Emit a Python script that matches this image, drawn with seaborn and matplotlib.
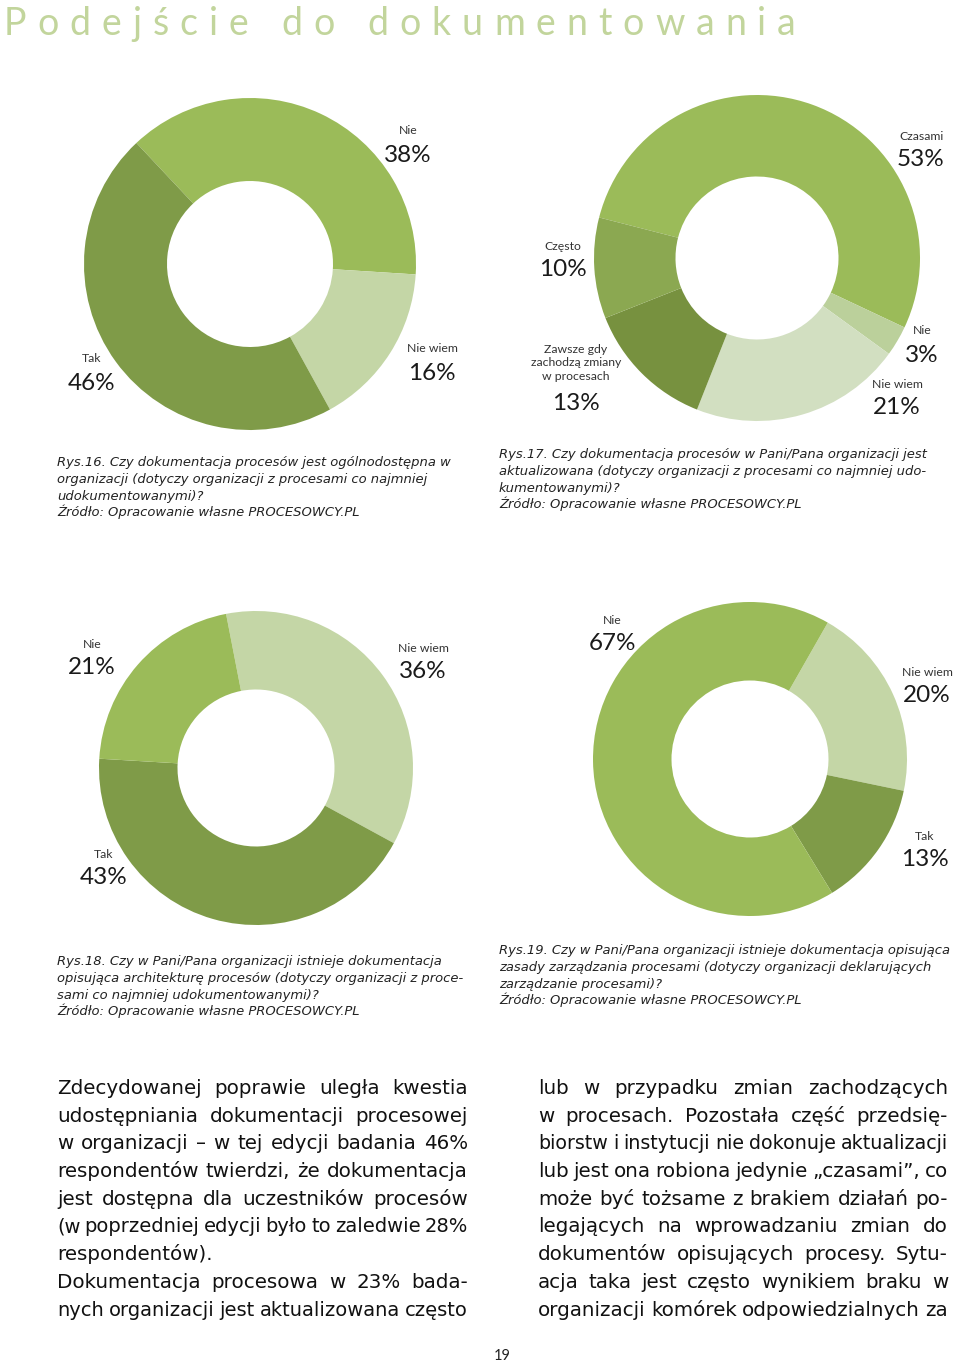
import matplotlib
matplotlib.use("Agg")
import matplotlib.pyplot as plt
import seaborn as sns

sns.set_theme(style="white")
plt.rcParams['font.family'] = ['Lato', 'DejaVu Sans']

W, H, DPI = 960, 1364, 100

# ==================== dane ====================
rys16_labels = ["Nie", "Nie wiem", "Tak"]
rys16_values = [38, 16, 46]

rys17_labels = ["Czasami", "Nie", "Nie wiem", "Zawsze gdy\nzachodzą zmiany\nw procesach", "Często"]
rys17_values = [53, 3, 21, 13, 10]

rys18_labels = ["Nie wiem", "Tak", "Nie"]
rys18_values = [36, 43, 21]

rys19_labels = ["Nie wiem", "Tak", "Nie"]
rys19_values = [20, 13, 67]

captions = {
    16: ["Rys.16. Czy dokumentacja procesów jest ogólnodostępna w",
         "organizacji (dotyczy organizacji z procesami co najmniej",
         "udokumentowanymi)?",
         "Źródło: Opracowanie własne PROCESOWCY.PL"],
    17: ["Rys.17. Czy dokumentacja procesów w Pani/Pana organizacji jest",
         "aktualizowana (dotyczy organizacji z procesami co najmniej udo-",
         "kumentowanymi)?",
         "Źródło: Opracowanie własne PROCESOWCY.PL"],
    18: ["Rys.18. Czy w Pani/Pana organizacji istnieje dokumentacja",
         "opisująca architekturę procesów (dotyczy organizacji z proce-",
         "sami co najmniej udokumentowanymi)?",
         "Źródło: Opracowanie własne PROCESOWCY.PL"],
    19: ["Rys.19. Czy w Pani/Pana organizacji istnieje dokumentacja opisująca",
         "zasady zarządzania procesami (dotyczy organizacji deklarujących",
         "zarządzanie procesami)?",
         "Źródło: Opracowanie własne PROCESOWCY.PL"],
}

left_col = ["Zdecydowanej poprawie uległa kwestia",
            "udostępniania dokumentacji procesowej",
            "w organizacji – w tej edycji badania 46%",
            "respondentów twierdzi, że dokumentacja",
            "jest dostępna dla uczestników procesów",
            "(w poprzedniej edycji było to zaledwie 28%",
            "respondentów).",
            "Dokumentacja procesowa w 23% bada-",
            "nych organizacji jest aktualizowana często"]
right_col = ["lub w przypadku zmian zachodzących",
             "w procesach. Pozostała część przedsię-",
             "biorstw i instytucji nie dokonuje aktualizacji",
             "lub jest ona robiona jedynie „czasami”, co",
             "może być tożsame z brakiem działań po-",
             "legających na wprowadzaniu zmian do",
             "dokumentów opisujących procesy. Sytu-",
             "acja taka jest często wynikiem braku w",
             "organizacji komórek odpowiedzialnych za"]

# ==================== kolory ====================
GREEN = "#9BBB59"
DARK = "#7F9B48"
LIGHT = "#C4D6A6"
colors16 = {"Nie": GREEN, "Nie wiem": LIGHT, "Tak": DARK}
colors17 = {"Czasami": GREEN, "Nie": "#BBD09B", "Nie wiem": "#D2DFC1",
            "Zawsze gdy\nzachodzą zmiany\nw procesach": "#77913F", "Często": "#8BA851"}

fig = plt.figure(figsize=(W / DPI, H / DPI), dpi=DPI)
fig.patch.set_facecolor("white")


def put(x, y, s, **kw):
    return fig.text(x / W, 1 - y / H, s, **kw)


def donut(cx, cy, r, labels, values, cmap, start, label_pos):
    ax = fig.add_axes([(cx - r) / W, 1 - (cy + r) / H, 2 * r / W, 2 * r / H])
    ax.pie(values, colors=[cmap[l] for l in labels], startangle=start,
           counterclock=False, radius=1,
           wedgeprops=dict(width=0.5, edgecolor="none", linewidth=0))
    ax.set_xlim(-1, 1)
    ax.set_ylim(-1, 1)
    ax.axis("off")
    for lab, val, (x, yn, yp) in zip(labels, values, label_pos):
        put(x, yn, lab, ha="center", va="center", fontsize=8.8,
            color="#333333", linespacing=1.3)
        put(x, yp, f"{val}%", ha="center", va="center", fontsize=17.5,
            color="#1a1a1a")


# ==================== wykresy ====================
donut(250, 264, 166, rys16_labels, rys16_values, colors16, 133.2,
      [(408, 130, 155), (432, 348, 373), (92, 359, 384)])
donut(757, 258, 163, rys17_labels, rys17_values, colors17, 165.6,
      [(921, 136, 160), (922, 331, 355), (897, 384, 408),
       (576, 363, 403), (563, 246, 270)])
donut(256, 768, 157, rys18_labels, rys18_values, colors16, 101.0,
      [(423, 648, 671), (104, 854, 878), (92, 645, 668)])
donut(750, 759, 157, rys19_labels, rys19_values, colors16, 60.3,
      [(927, 672, 695), (925, 836, 859), (612, 620, 643)])

renderer = fig.canvas.get_renderer()


def justify(tokens, x0, x1, y, extra=None, min_gap=4.0, **kw):
    texts = [put(0, y, t, ha="left", va="baseline", **kw) for t in tokens]
    units = extra if extra else [1] * (len(tokens) - 1)
    size = kw.get("fontsize", 12)
    for _ in range(20):
        widths = [t.get_window_extent(renderer).width for t in texts]
        gap = (x1 - x0 - sum(widths)) / sum(units)
        if gap >= min_gap:
            break
        size *= 0.98
        for t in texts:
            t.set_fontsize(size)
    x = x0
    for i, (t, w) in enumerate(zip(texts, widths)):
        t.set_x(x / W)
        if i < len(units):
            x += w + gap * units[i]


# tytuł z rozstrzeloną czcionką
title = "Podejście do dokumentowania"
letters = [c for c in title if c != " "]
units = []
for i, c in enumerate(title[:-1]):
    if c == " ":
        continue
    units.append(3 if title[i + 1] == " " else 1)
justify(letters, 4, 796, 35, extra=units, fontsize=27,
        color="#C2D59C")

# podpisy rysunków
cap_pos = {16: (57, 466), 17: (499, 458), 18: (57, 965), 19: (499, 954)}
for k, lines in captions.items():
    x, y = cap_pos[k]
    for i, line in enumerate(lines):
        put(x, y + i * 16.8, line, ha="left", va="baseline", fontsize=9.45,
            style="italic", color="#222222", family=["DejaVu Sans"])

# tekst główny (wyjustowany)
for col, (x0, x1) in [(left_col, (57, 468)), (right_col, (538, 948))]:
    for i, line in enumerate(col):
        y = 1094 + i * 27.7
        kw = dict(fontsize=14.3, color="#111111", family=["DejaVu Sans"])
        if line == "respondentów).":
            put(x0, y, line, ha="left", va="baseline", **kw)
        else:
            justify(line.split(), x0, x1, y, **kw)

put(502, 1360, "19", ha="center", va="baseline", fontsize=10.5, color="#222222")

plt.savefig("out.png", dpi=DPI, facecolor="white")
plt.close()
